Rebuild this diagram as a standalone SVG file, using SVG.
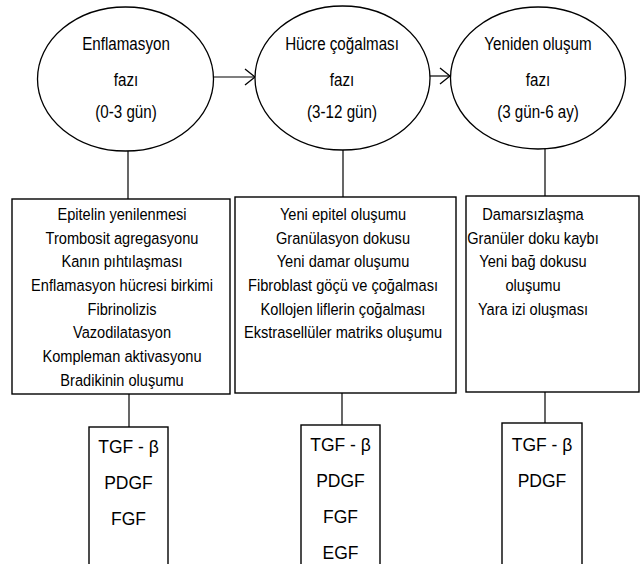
<svg xmlns="http://www.w3.org/2000/svg" width="642" height="564" viewBox="0 0 642 564">
<defs>
<style>
.shape{fill:#fff;stroke:#000;stroke-width:1.3}
.box{fill:#fff;stroke:#000;stroke-width:1.4}
.ln{fill:none;stroke:#000;stroke-width:1.2}
.t{font-family:"Liberation Sans",Arial,sans-serif;fill:#000;text-anchor:middle}
.e{font-size:18.5px}
.m{font-size:17px}
.g{font-size:17.5px}
</style>
<marker id="arr" viewBox="0 0 12 18" refX="11" refY="9" markerWidth="12" markerHeight="18" markerUnits="userSpaceOnUse" orient="auto">
<path d="M1,1 L11,9 L1,17" fill="none" stroke="#000" stroke-width="1.3"/>
</marker>
</defs>
<rect width="642" height="564" fill="#fff"/>
<g id="connectors">
<line class="ln" x1="213" y1="77" x2="255" y2="77" marker-end="url(#arr)"/>
<line class="ln" x1="428" y1="76" x2="450" y2="76" marker-end="url(#arr)"/>
<line class="ln" x1="128" y1="151" x2="128" y2="199"/>
<line class="ln" x1="343" y1="150" x2="343" y2="197"/>
<line class="ln" x1="545" y1="149" x2="545" y2="196"/>
<line class="ln" x1="129" y1="394" x2="129" y2="427"/>
<line class="ln" x1="342" y1="393" x2="342" y2="425"/>
<line class="ln" x1="545" y1="392" x2="545" y2="423"/>
</g>
<g id="phase1">
<ellipse class="shape" cx="125.5" cy="79" rx="88" ry="72"/>
<g transform="translate(126 0) scale(0.82 1)">
<text class="t e" x="0" y="50">Enflamasyon</text>
<text class="t e" x="0" y="86">fazı</text>
<text class="t e" x="0" y="118">(0-3 gün)</text>
</g>
</g>
<g id="phase2">
<ellipse class="shape" cx="342.5" cy="78" rx="87.5" ry="72"/>
<g transform="translate(342 0) scale(0.82 1)">
<text class="t e" x="0" y="50">Hücre çoğalması</text>
<text class="t e" x="0" y="86">fazı</text>
<text class="t e" x="0" y="118">(3-12 gün)</text>
</g>
</g>
<g id="phase3">
<ellipse class="shape" cx="538" cy="78" rx="87.5" ry="71"/>
<g transform="translate(538 0) scale(0.82 1)">
<text class="t e" x="0" y="50">Yeniden oluşum</text>
<text class="t e" x="0" y="86">fazı</text>
<text class="t e" x="0" y="118">(3 gün-6 ay)</text>
</g>
</g>
<g id="events1">
<rect class="box" x="12" y="199" width="218" height="195"/>
<g transform="translate(122 0) scale(0.86 1)">
<text class="t m" x="0" y="220">Epitelin yenilenmesi</text>
<text class="t m" x="0" y="244">Trombosit agregasyonu</text>
<text class="t m" x="0" y="267">Kanın pıhtılaşması</text>
<text class="t m" x="0" y="291">Enflamasyon hücresi birkimi</text>
<text class="t m" x="0" y="315">Fibrinolizis</text>
<text class="t m" x="0" y="338">Vazodilatasyon</text>
<text class="t m" x="0" y="362">Kompleman aktivasyonu</text>
<text class="t m" x="0" y="386">Bradikinin oluşumu</text>
</g>
</g>
<g id="events2">
<rect class="box" x="235" y="197" width="221" height="196"/>
<g transform="translate(343 0) scale(0.86 1)">
<text class="t m" x="0" y="220">Yeni epitel oluşumu</text>
<text class="t m" x="0" y="244">Granülasyon dokusu</text>
<text class="t m" x="0" y="267">Yeni damar oluşumu</text>
<text class="t m" x="0" y="291">Fibroblast göçü ve çoğalması</text>
<text class="t m" x="0" y="315">Kollojen liflerin çoğalması</text>
<text class="t m" x="0" y="338">Ekstrasellüler matriks oluşumu</text>
</g>
</g>
<g id="events3">
<rect class="box" x="466" y="196" width="173" height="196"/>
<g transform="translate(533 0) scale(0.86 1)">
<text class="t m" x="0" y="220">Damarsızlaşma</text>
<text class="t m" x="0" y="244">Granüler doku kaybı</text>
<text class="t m" x="0" y="267">Yeni bağ dokusu</text>
<text class="t m" x="0" y="291">oluşumu</text>
<text class="t m" x="0" y="315">Yara izi oluşması</text>
</g>
</g>
<g id="factors1">
<rect class="box" x="89" y="427" width="79" height="150"/>
<text class="t g" x="128.5" y="453">TGF - β</text>
<text class="t g" x="128.5" y="489">PDGF</text>
<text class="t g" x="128.5" y="525">FGF</text>
</g>
<g id="factors2">
<rect class="box" x="301" y="425" width="79" height="150"/>
<text class="t g" x="340.5" y="451">TGF - β</text>
<text class="t g" x="340.5" y="487">PDGF</text>
<text class="t g" x="340.5" y="523">FGF</text>
<text class="t g" x="340.5" y="559">EGF</text>
</g>
<g id="factors3">
<rect class="box" x="502" y="423" width="80" height="150"/>
<text class="t g" x="542" y="451">TGF - β</text>
<text class="t g" x="542" y="487">PDGF</text>
</g>
</svg>
